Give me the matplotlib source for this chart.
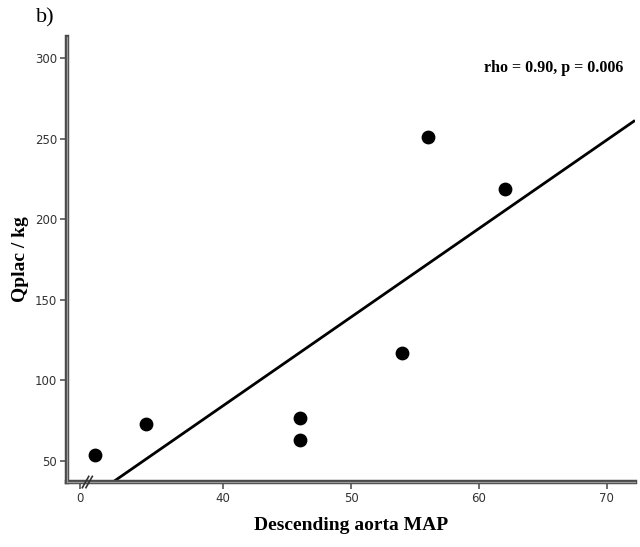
import numpy as np
import matplotlib.pyplot as plt

# descending aorta MAP vs placental flow per kg
map_vals = [30, 34, 46, 46, 54, 56, 62]
qplac_kg = [54, 73, 77, 63, 117, 251, 219]
x_ticks = [28.8, 40, 50, 60, 70]
x_tick_labels = ["0", "40", "50", "60", "70"]
y_ticks = [50, 100, 150, 200, 250, 300]

fig = plt.figure(figsize=(6.4, 5.47), dpi=100)
ax = fig.add_axes([0.1047, 0.1188, 0.8875, 0.8135])

x = np.array(map_vals, dtype=float)
y = np.array(qplac_kg, dtype=float)
ax.scatter(x, y, s=80, color="black", zorder=3)

xmin, xmax = 27.8, 72.2
ymin, ymax = 37, 313
slope, icpt = np.polyfit(x, y, 1)
xs = np.array([(ymin - icpt) / slope, xmax])
ax.plot(xs, slope * xs + icpt, color="black", lw=2, solid_capstyle="butt", zorder=2)

ax.set_xlim(xmin, xmax)
ax.set_ylim(ymin, ymax)

for side in ("top", "right"):
    ax.spines[side].set_visible(False)
for side in ("left", "bottom"):
    ax.spines[side].set_color("#4a4a4a")
    ax.spines[side].set_linewidth(3.2)
# lighter stripe down the middle of each axis line
ax.plot([0, 0], [0, 1], transform=ax.transAxes, color="#9a9a9a", lw=0.9,
        clip_on=False, zorder=5)
ax.plot([0, 1], [0, 0], transform=ax.transAxes, color="#9a9a9a", lw=0.9,
        clip_on=False, zorder=5)

ax.set_xticks(x_ticks)
ax.set_xticklabels(x_tick_labels)
ax.set_yticks(y_ticks)
ax.tick_params(axis="both", length=5, width=1.2, color="#555555",
               labelsize=8.5, labelcolor="#333333", pad=2)

# axis break marks near the origin
for dx in (0, 0.28):
    ax.plot([29.0 + dx, 29.5 + dx], [ymin - 3.5, ymin + 3.5], color="#333333",
            lw=1.2, clip_on=False, zorder=6)

ax.set_xlabel("Descending aorta MAP", family="Liberation Serif",
              fontweight="bold", fontsize=14, labelpad=9)
ax.set_ylabel("Qplac / kg", family="Liberation Serif",
              fontweight="bold", fontsize=14, labelpad=4)

ax.text(0.979, 0.930, "rho = 0.90, p = 0.006", transform=ax.transAxes,
        ha="right", va="center", family="Liberation Serif",
        fontweight="bold", fontsize=11.5)
fig.text(0.057, 0.967, "b)", family="Liberation Serif", fontsize=16,
         ha="left", va="center")

fig.savefig("out.png", dpi=100)
